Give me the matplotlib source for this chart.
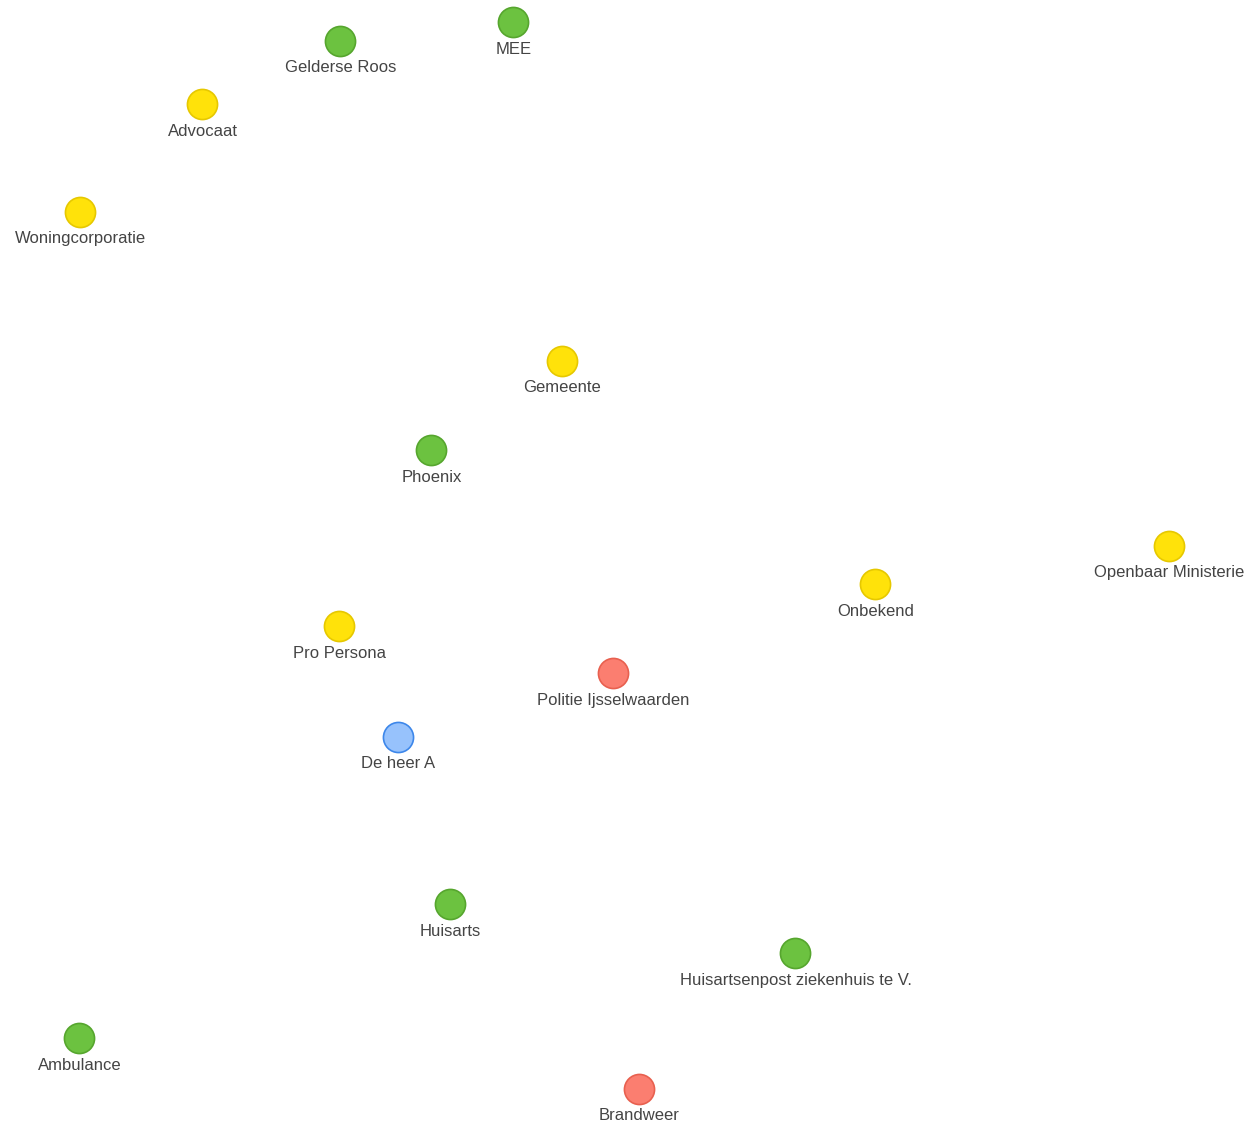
import matplotlib.pyplot as plt

plt.rcParams["font.family"] = ["Liberation Sans", "DejaVu Sans"]

# node names, pixel positions in the network canvas, and group
names = ["Gelderse Roos", "MEE", "Advocaat", "Woningcorporatie", "Gemeente",
         "Phoenix", "Openbaar Ministerie", "Onbekend", "Pro Persona",
         "Politie Ijsselwaarden", "De heer A", "Huisarts",
         "Huisartsenpost ziekenhuis te V.", "Ambulance", "Brandweer"]
xs = [340, 513, 202, 80, 562, 431, 1169, 875, 339, 613, 398, 450, 795, 79, 639]
ys = [41, 22, 104, 212, 361, 450, 546, 584, 626, 673, 737, 904, 953, 1038, 1089]
groups = ["zorg", "zorg", "overig", "overig", "overig", "zorg", "overig",
          "overig", "overig", "nood", "client", "zorg", "zorg", "zorg", "nood"]

fill = {"zorg": "#6cc240", "overig": "#ffe20a", "nood": "#fb7e70", "client": "#97c2fc"}
edge = {"zorg": "#56a62e", "overig": "#e6c800", "nood": "#e8604f", "client": "#3d87ea"}

W, H = 1251, 1129
fig = plt.figure(figsize=(W / 100, H / 100), dpi=100)
ax = fig.add_axes([0, 0, 1, 1])
ax.set_xlim(-0.5, W - 0.5)
ax.set_ylim(H - 0.5, -0.5)
ax.axis("off")

ax.scatter(xs, ys, s=470,
           c=[fill[g] for g in groups],
           edgecolors=[edge[g] for g in groups],
           linewidths=1.2, zorder=3)

for n, x, y in zip(names, xs, ys):
    ax.text(x, y + 26.5, n, ha="center", va="center", fontsize=12, color="#444444")

fig.savefig("out.png", dpi=100, facecolor="white")
